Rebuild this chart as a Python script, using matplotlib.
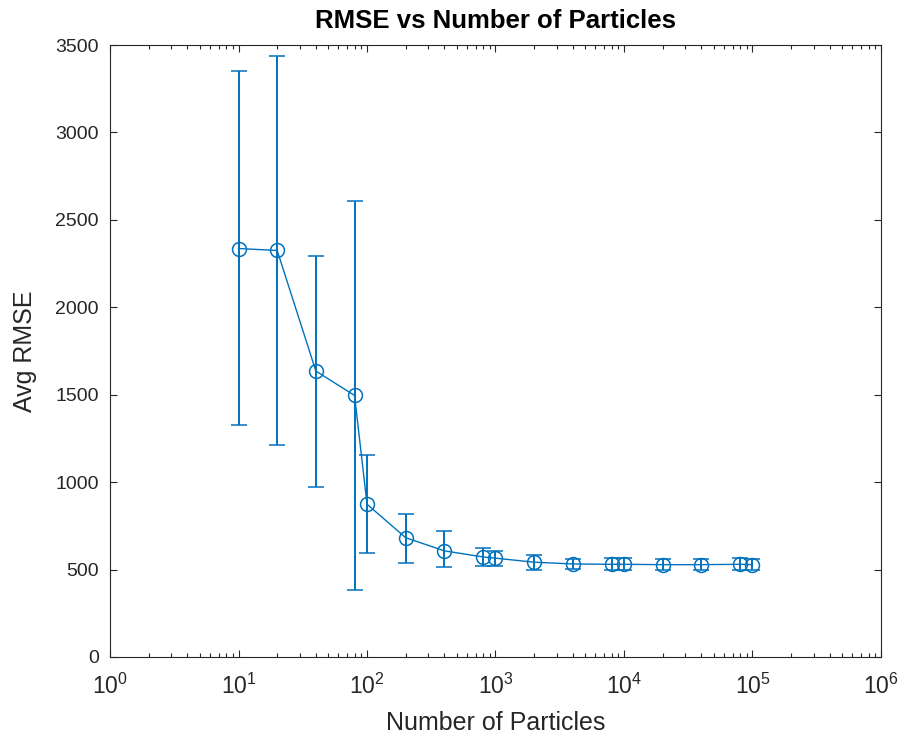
import numpy as np
import matplotlib.pyplot as plt
from matplotlib.ticker import LogLocator, NullFormatter

plt.rcParams['font.family'] = ['Liberation Sans', 'DejaVu Sans']

particles = [10, 20, 40, 80, 100, 200, 400, 800, 1000, 2000, 4000,
             8000, 10000, 20000, 40000, 80000, 100000]
avg_rmse = [2336, 2325, 1635, 1496, 874, 682, 607, 572, 565, 542, 532,
            530, 530, 528, 528, 530, 528]
err_low = [1010, 1110, 665, 1115, 282, 142, 95, 52, 42, 42, 30,
           35, 35, 32, 32, 35, 32]
err_high = [1015, 1112, 660, 1114, 280, 135, 112, 50, 40, 42, 30,
            35, 35, 32, 32, 35, 32]
x_ticks = [1e0, 1e1, 1e2, 1e3, 1e4, 1e5, 1e6]
x_labels = [r'$\mathregular{10^{%d}}$' % i for i in range(7)]

blue = (0, 0.447, 0.741)
dark = '#262626'

fig = plt.figure(figsize=(9.07, 7.38), dpi=100)
ax = fig.add_axes([0.1213, 0.1098, 0.85, 0.8292])

ax.errorbar(particles, avg_rmse, yerr=[err_low, err_high], color=blue,
            marker='o', markersize=10, markerfacecolor='none',
            markeredgewidth=1.1, linewidth=1.0, elinewidth=1.4,
            capsize=5.8, capthick=1.4)

ax.set_xscale('log')
ax.set_xlim(1, 1e6)
ax.set_ylim(0, 3500)
ax.set_xticks(x_ticks)
ax.set_xticklabels(x_labels)
ax.set_yticks(np.arange(0, 3501, 500))
ax.xaxis.set_minor_locator(LogLocator(base=10, subs=np.arange(2, 10), numticks=20))
ax.xaxis.set_minor_formatter(NullFormatter())

ax.tick_params(which='both', direction='in', top=True, right=True,
               colors=dark, width=0.8)
ax.tick_params(which='major', length=5)
ax.tick_params(which='minor', length=3)
ax.tick_params(axis='x', which='major', labelsize=16.5, pad=12)
ax.tick_params(axis='y', which='major', labelsize=14, pad=8)
for s in ax.spines.values():
    s.set_color(dark)
    s.set_linewidth(0.8)

ax.set_xlabel('Number of Particles', fontsize=18, color=dark, labelpad=9)
ax.set_ylabel('Avg RMSE', fontsize=18, color=dark, labelpad=13)
ax.set_title('RMSE vs Number of Particles', fontsize=18.5, fontweight='bold', pad=12)

fig.savefig('out.png', dpi=100)
